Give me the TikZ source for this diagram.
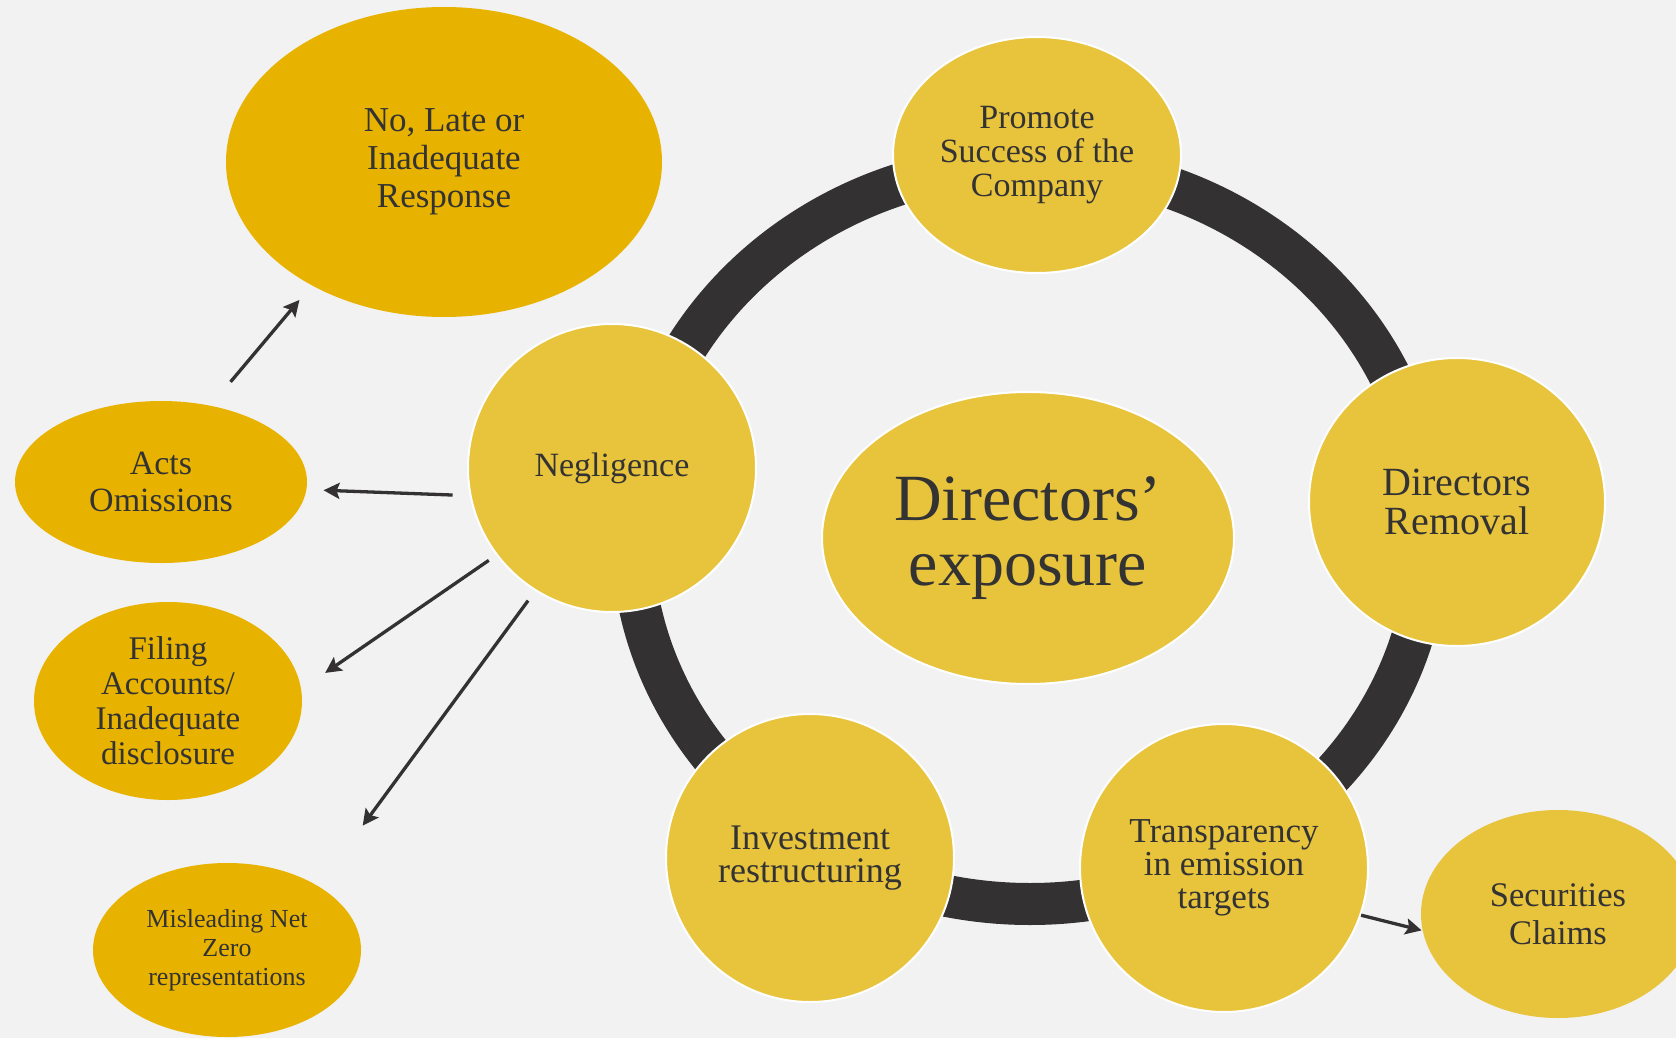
\documentclass[tikz,border=0pt]{standalone}
\usepackage{fontspec}
\setmainfont{Liberation Serif}
\usetikzlibrary{arrows.meta,shapes.geometric}
\definecolor{bggray}{HTML}{F2F2F2}
\definecolor{darkgold}{HTML}{E8B300}
\definecolor{lightgold}{HTML}{E8C33C}
\definecolor{ringgray}{HTML}{333132}
\definecolor{txtgray}{HTML}{333333}
\newcommand{\fs}[2]{\fontsize{#1}{#2}\selectfont}
\begin{document}
\begin{tikzpicture}[x=1pt,y=-1pt,
    bubble/.style={ellipse,inner sep=0pt,align=center,text=txtgray},
    lightbub/.style={bubble,fill=lightgold,draw=white,line width=2pt},
    darkbub/.style={bubble,fill=darkgold},
    arr/.style={-{Stealth[length=16pt,width=16pt,inset=3pt]},line width=3.3pt,draw=ringgray}]
    \clip (0,0) rectangle (1676,1038);
    \fill[bggray] (0,0) rectangle (1676,1038);
    \draw[ringgray,line width=42pt] (1030,534) ellipse [x radius=398,y radius=370];

    \node[lightbub,minimum width=288pt,minimum height=236pt,font=\fs{34}{34}] (promote) at (1037,155) {Promote\\Success of the\\Company};
    \node[lightbub,minimum width=296pt,minimum height=288pt,font=\fs{40}{38.5}] (removal) at (1457,502) {Directors\\Removal};
    \node[lightbub,minimum width=288pt,minimum height=288pt,font=\fs{35}{33}] (transp) at (1224,868) {Transparency\\in emission\\targets};
    \node[lightbub,minimum width=288pt,minimum height=288pt,font=\fs{36}{33}] (invest) at (810,858) {Investment\\restructuring};
    \node[lightbub,minimum width=288pt,minimum height=288pt,font=\fs{34}{34}] (neg) at (612,468) {Negligence};
    \node[lightbub,minimum width=412pt,minimum height=292pt,font=\fs{66}{65}] (expo) at (1028,538) {Directors'\\exposure};
    \node[bubble,fill=lightgold,minimum width=274pt,minimum height=208pt,font=\fs{34.5}{38.5}] (secur) at (1558,914) {Securities\\Claims};

    \node[darkbub,minimum width=436pt,minimum height=310pt,font=\fs{35}{38}] (nolate) at (444,162) {No, Late or\\Inadequate\\Response};
    \node[darkbub,minimum width=292pt,minimum height=162pt,font=\fs{34}{37}] (acts) at (161,482) {Acts\\Omissions};
    \node[darkbub,minimum width=268pt,minimum height=198pt,font=\fs{33}{35}] (filing) at (168,701) {Filing\\Accounts/\\Inadequate\\disclosure};
    \node[darkbub,minimum width=268pt,minimum height=174pt,font=\fs{26}{29}] (misl) at (227,950) {Misleading Net\\Zero\\representations};

    \draw[arr,shorten <=31pt,shorten >=19pt] (acts.57.7) -- (nolate.223.8);
    \draw[arr,shorten <=17pt,shorten >=17pt] (neg.191.4) -- (acts.-3.5);
    \draw[arr,shorten <=9pt,shorten >=29pt] (neg.217) -- (filing.5);
    \draw[arr,shorten <=12pt,shorten >=75pt] (neg.238.6) -- (misl.35.5);
    \draw[arr,shorten >=1pt] (transp.-19) -- (secur.187.5);
\end{tikzpicture}
\end{document}
